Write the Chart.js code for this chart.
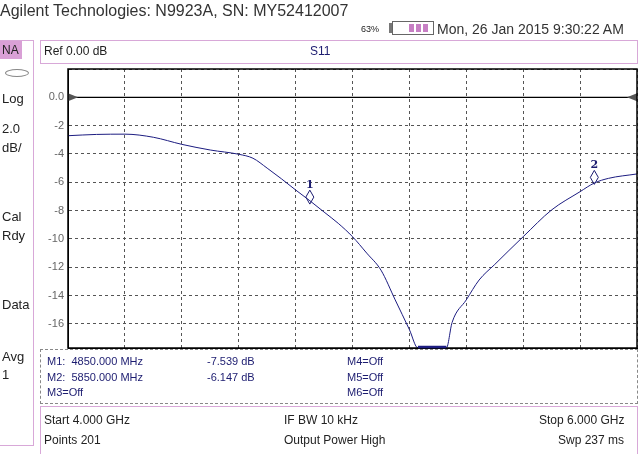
<!DOCTYPE html>
<html>
<head>
<meta charset="utf-8">
<script src="https://cdn.jsdelivr.net/npm/chart.js@4"></script>
<style>
  body { margin: 0; background: #fff; font-family: "Liberation Sans", Arial, sans-serif; }
  #wrap { position: relative; width: 640px; height: 454px; overflow: hidden; }
  canvas { position: absolute; left: 0; top: 0; }
  .t { position: absolute; white-space: nowrap; color: #222; font-size: 12px; }
  .box { position: absolute; box-sizing: border-box; }
  .blue { color: #1c1c70; }
</style>
</head>
<body>
<div id="wrap">
  <canvas id="c" width="640" height="454"></canvas>
  <div class="t" style="left:0;top:2px;font-size:16px;color:#333;">Agilent Technologies: N9923A, SN: MY52412007</div>
  <div class="t" style="left:361px;top:24px;font-size:9px;">63%</div>
  <div class="box" style="left:389px;top:23px;width:3px;height:10px;background:#777;"></div>
  <div class="box" style="left:392px;top:21px;width:42px;height:14px;border:1px solid #666;"></div>
  <div class="box" style="left:409px;top:24px;width:5px;height:8px;background:#c77fc4;"></div>
  <div class="box" style="left:416px;top:24px;width:5px;height:8px;background:#c77fc4;"></div>
  <div class="box" style="left:423px;top:24px;width:5px;height:8px;background:#c77fc4;"></div>
  <div class="t" style="left:437px;top:21px;font-size:14px;color:#333;">Mon, 26 Jan 2015 9:30:22 AM</div>

  <div class="box" style="left:-1px;top:40px;width:35px;height:406px;border:1px solid #d8a8d8;"></div>
  <div class="box" style="left:0;top:41px;width:22px;height:18px;background:#d9a0d6;"></div>
  <div class="t" style="left:2px;top:43px;">NA</div>
  <div class="box" style="left:5px;top:69px;width:24px;height:8px;border:1px solid #888;border-radius:50%;"></div>
  <div class="t" style="left:2px;top:91px;font-size:13px;">Log</div>
  <div class="t" style="left:2px;top:121px;font-size:13px;">2.0</div>
  <div class="t" style="left:2px;top:140px;font-size:13px;">dB/</div>
  <div class="t" style="left:2px;top:209px;font-size:13px;">Cal</div>
  <div class="t" style="left:2px;top:228px;font-size:13px;">Rdy</div>
  <div class="t" style="left:2px;top:297px;font-size:13px;">Data</div>
  <div class="t" style="left:2px;top:349px;font-size:13px;">Avg</div>
  <div class="t" style="left:2px;top:367px;font-size:13px;">1</div>

  <div class="box" style="left:40px;top:40px;width:598px;height:24px;border:1px solid #d8a8d8;"></div>
  <div class="t" style="left:44px;top:44px;">Ref 0.00 dB</div>
  <div class="t blue" style="left:310px;top:44px;">S11</div>

  <div class="box" style="left:40px;top:349px;width:598px;height:55px;border:1px dashed #888;"></div>
  <div class="t blue" style="left:47px;top:355px;font-size:11px;">M1:&nbsp; 4850.000 MHz</div>
  <div class="t blue" style="left:207px;top:355px;font-size:11px;">-7.539 dB</div>
  <div class="t blue" style="left:347px;top:355px;font-size:11px;">M4=Off</div>
  <div class="t blue" style="left:47px;top:371px;font-size:11px;">M2:&nbsp; 5850.000 MHz</div>
  <div class="t blue" style="left:207px;top:371px;font-size:11px;">-6.147 dB</div>
  <div class="t blue" style="left:347px;top:371px;font-size:11px;">M5=Off</div>
  <div class="t blue" style="left:47px;top:386px;font-size:11px;">M3=Off</div>
  <div class="t blue" style="left:347px;top:386px;font-size:11px;">M6=Off</div>

  <div class="box" style="left:40px;top:406px;width:598px;height:50px;border:1px solid #d8a8d8;"></div>
  <div class="t" style="left:44px;top:413px;">Start 4.000 GHz</div>
  <div class="t" style="left:284px;top:413px;">IF BW 10 kHz</div>
  <div class="t" style="left:539px;top:413px;">Stop 6.000 GHz</div>
  <div class="t" style="left:44px;top:433px;">Points 201</div>
  <div class="t" style="left:284px;top:433px;">Output Power High</div>
  <div class="t" style="left:558px;top:433px;">Swp 237 ms</div>
</div>
<script>
// --- DATA ---
const freqGHz = [4.0, 4.1, 4.2, 4.3, 4.4, 4.5, 4.6, 4.65, 4.7, 4.75, 4.8, 4.85, 4.9, 4.95, 5.0, 5.05, 5.1, 5.15, 5.2, 5.23, 5.3, 5.33, 5.35, 5.4, 5.445, 5.5, 5.6, 5.7, 5.8, 5.85, 5.9, 6.0];
const s11dB = [-2.71, -2.62, -2.6, -2.82, -3.32, -3.72, -4.02, -4.3, -5.0, -5.75, -6.54, -7.3, -8.1, -8.9, -9.84, -11.0, -12.2, -14.3, -16.4, -17.7, -17.7, -17.7, -15.9, -14.3, -12.9, -11.8, -9.84, -7.95, -6.66, -6.05, -5.72, -5.41];
const markerNames = ['1', '2'];
const markerFreq = [4.85, 5.85];
const markerVal = [-7.539, -6.147];
const yTicks = [2, 0, -2, -4, -6, -8, -10, -12, -14, -16];

const frame = {
  id: 'frame',
  afterDraw(chart) {
    const { ctx, chartArea: a, scales } = chart;
    const x = scales.x, y = scales.y;
    ctx.save();
    // reference line at 0 dB
    const y0 = y.getPixelForValue(0);
    ctx.strokeStyle = '#000'; ctx.lineWidth = 1.2;
    ctx.beginPath(); ctx.moveTo(a.left, y0); ctx.lineTo(a.right, y0); ctx.stroke();
    ctx.fillStyle = '#555';
    ctx.beginPath(); ctx.moveTo(a.left, y0 - 4); ctx.lineTo(a.left + 10, y0); ctx.lineTo(a.left, y0 + 4); ctx.fill();
    ctx.beginPath(); ctx.moveTo(a.right, y0 - 4); ctx.lineTo(a.right - 10, y0); ctx.lineTo(a.right, y0 + 4); ctx.fill();
    // frame
    ctx.strokeStyle = '#000'; ctx.lineWidth = 1.5;
    ctx.strokeRect(a.left, a.top, a.right - a.left, a.bottom - a.top);
    // trace bottoming out (clipped segment)
    ctx.strokeStyle = '#1c1c80'; ctx.lineWidth = 2.5;
    ctx.beginPath(); ctx.moveTo(x.getPixelForValue(5.23), a.bottom - 1); ctx.lineTo(x.getPixelForValue(5.33), a.bottom - 1); ctx.stroke();
    // markers
    ctx.strokeStyle = '#1c1c70'; ctx.fillStyle = '#1c1c70'; ctx.lineWidth = 1;
    ctx.font = 'bold 11px "DejaVu Serif", serif'; ctx.textAlign = 'center';
    markerFreq.forEach((f, i) => {
      const px = x.getPixelForValue(f), py = y.getPixelForValue(markerVal[i]);
      ctx.beginPath();
      ctx.moveTo(px, py); ctx.lineTo(px - 4, py - 7); ctx.lineTo(px, py - 14); ctx.lineTo(px + 4, py - 7); ctx.closePath();
      ctx.stroke();
      ctx.fillText(markerNames[i], px, py - 16);
    });
    ctx.restore();
  }
};

new Chart(document.getElementById('c'), {
  type: 'line',
  data: { datasets: [{ data: freqGHz.map((f, i) => ({ x: f, y: s11dB[i] })), borderColor: '#1c1c80', borderWidth: 1, pointRadius: 0, cubicInterpolationMode: 'monotone' }] },
  options: {
    responsive: false, animation: false,
    layout: { padding: { left: 0, right: 3, top: 69, bottom: 106 } },
    plugins: { legend: { display: false }, tooltip: { enabled: false } },
    scales: {
      x: {
        type: 'linear', min: 4.0, max: 6.0,
        ticks: { stepSize: 0.2, display: false },
        grid: { color: '#555', drawTicks: false }, border: { display: true, color: '#000', dash: [3, 3] }
      },
      y: {
        min: -17.7, max: 2,
        afterFit(s) { s.width = 68; },
        afterBuildTicks(s) { s.ticks = yTicks.map(v => ({ value: v })); },
        ticks: { color: '#666', font: { size: 11 }, padding: 4, callback: v => v === 2 ? '' : (v === 0 ? '0.0' : String(v)) },
        grid: { color: '#555', drawTicks: false }, border: { display: true, color: '#000', dash: [3, 3] }
      }
    }
  },
  plugins: [frame]
});
</script>
</body>
</html>
